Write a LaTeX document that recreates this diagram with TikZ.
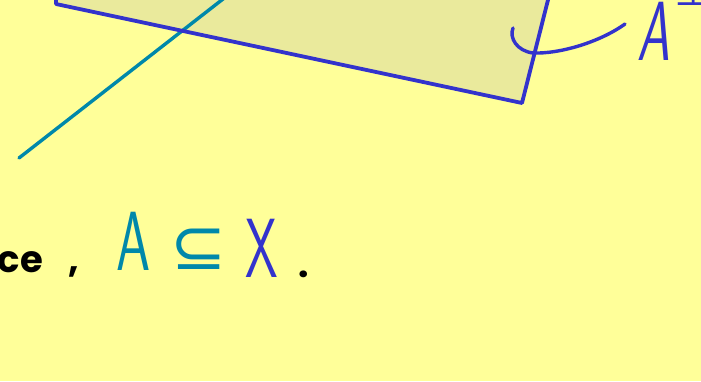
\documentclass[tikz,border=0pt]{standalone}
\usepackage{fontspec}
\usepackage{graphicx}
\newfontfamily\handfont{Poppins}
\newcommand\thinfont{\sffamily}
\newfontfamily\symfont{DejaVu Sans}
\definecolor{bg}{HTML}{FFFF99}
\definecolor{planefill}{HTML}{EAEA9C}
\definecolor{lineblue}{HTML}{3333CC}
\definecolor{lineteal}{HTML}{0088AA}
\tikzset{
  blueline/.style={draw=lineblue, line width=3.8pt, line cap=round, line join=round},
  tealline/.style={draw=lineteal, line width=3.4pt, line cap=round},
  txt/.style={inner sep=0pt, outer sep=0pt, anchor=base west},
}
\begin{document}
\begin{tikzpicture}[x=1pt,y=-1pt]
\useasboundingbox (0,0) rectangle (701,381);
\fill[bg] (0,0) rectangle (701,381);
% plane
\coordinate (p1) at (56,-8);
\coordinate (p2) at (56,4);
\coordinate (p3) at (522,103);
\coordinate (p4) at (550,-8);
\fill[planefill] (p1) -- (p2) -- (p3) -- (p4) -- cycle;
% teal line
\coordinate (t1) at (19,158);
\coordinate (t2) at (232,-8);
\draw[tealline] (t1) -- (t2);
\draw[blueline] (p1) -- (p2) -- (p3) -- (p4);
% angle mark
\coordinate (a1) at (513,28);
\coordinate (a2) at (533,53);
\coordinate (a3) at (625,24);
\draw[blueline, line width=3.4pt] (a1) .. controls (509,38) and (517,51) .. (a2)
  .. controls (560,54) and (600,42) .. (a3);
% A-perp label
\node[txt, text=lineblue] (aperp) at (637,60) {\thinfont\fontsize{84}{84}\selectfont\scalebox{0.62}[1]{\itshape A}};
\node[txt, text=lineblue] (perp) at (674,5) {\symfont\fontsize{44}{44}\selectfont ⊥};
% bottom text
\node[txt, anchor=base east] (ce) at (43,272) {\handfont\bfseries\fontsize{37}{37}\selectfont ce};
\node[txt] (comma) at (68,272) {\handfont\bfseries\fontsize{37}{37}\selectfont ,};
\node[txt, text=lineteal] (A) at (116,270) {\thinfont\fontsize{84}{84}\selectfont\scalebox{0.65}[1]{A}};
\node[txt, text=lineteal] (sub) at (170,269) {\symfont\fontsize{66}{66}\selectfont\scalebox{1.02}[1]{⊆}};
\node[txt, text=lineblue] (X) at (245,277) {\thinfont\fontsize{84}{84}\selectfont\scalebox{0.62}[1]{X}};
\node[txt] (dot) at (298,277) {\handfont\bfseries\fontsize{37}{37}\selectfont .};
\end{tikzpicture}
\end{document}
